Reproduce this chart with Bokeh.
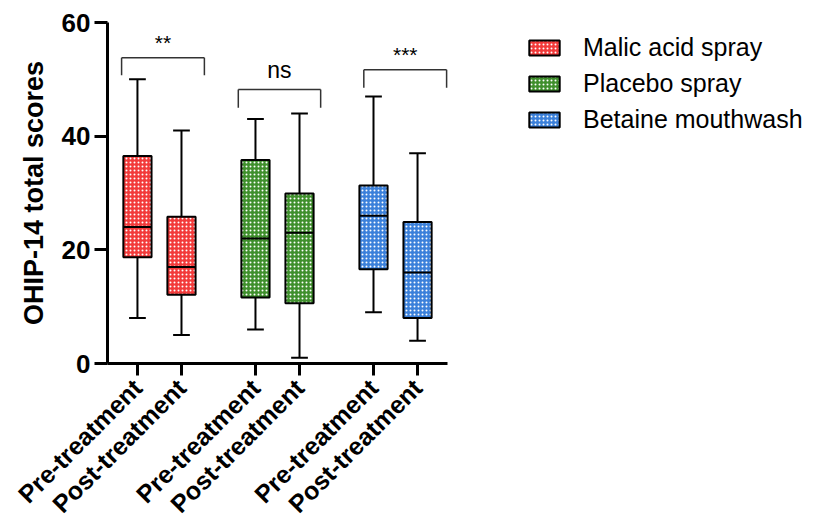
from bokeh.plotting import figure
from bokeh.models import Range1d, ColumnDataSource, Legend, LegendItem, FixedTicker
from bokeh.core.properties import value
from bokeh.embed import file_html
from bokeh.resources import INLINE

# ---- data ----
labels = ["Pre-treatment", "Post-treatment"] * 3
groups = ["Malic acid spray", "Malic acid spray", "Placebo spray", "Placebo spray",
          "Betaine mouthwash", "Betaine mouthwash"]
xpos = [0, 1, 2.68, 3.68, 5.36, 6.36]
wmin = [8, 5, 6, 1, 9, 4]
q1 = [18.7, 12.1, 11.6, 10.6, 16.6, 8.0]
med = [24, 17, 22, 23, 26, 16]
q3 = [36.5, 25.8, 35.8, 29.9, 31.3, 24.9]
wmax = [50, 41, 43, 44, 47, 37]
colors = ["#f23a3a", "#f23a3a", "#3f8f2c", "#3f8f2c", "#3b80da", "#3b80da"]
legend_names = ["Malic acid spray", "Placebo spray", "Betaine mouthwash"]

sig_text = ["**", "ns", "***"]
sig_left = [-0.36, 2.29, 5.14]
sig_right = [1.52, 4.16, 7.02]
sig_top = [53.8, 48.2, 51.7]
sig_leg = [50.7, 45.0, 48.5]
sig_text_y = [54.4, 49.4, 52.3]
sig_font = ["21px", "23px", "21px"]

BW = 0.64
CW = 0.38
AXIS_END = 7.04

p = figure(frame_width=702, frame_height=341, output_backend="svg", toolbar_location=None,
           x_range=Range1d(-0.68, 15.26), y_range=Range1d(0, 60),
           min_border_left=107, min_border_right=0, min_border_top=22, min_border_bottom=145)
p.outline_line_color = None
p.grid.visible = False
p.background_fill_color = "white"

src = ColumnDataSource(dict(x=xpos, wmin=wmin, q1=q1, med=med, q3=q3, wmax=wmax,
                            left=[x - BW / 2 for x in xpos], right=[x + BW / 2 for x in xpos],
                            cl=[x - CW / 2 for x in xpos], cr=[x + CW / 2 for x in xpos],
                            color=colors, group=groups))

# whiskers
p.segment(x0="x", y0="q3", x1="x", y1="wmax", source=src, line_color="black", line_width=2)
p.segment(x0="x", y0="wmin", x1="x", y1="q1", source=src, line_color="black", line_width=2)
p.segment(x0="cl", y0="wmax", x1="cr", y1="wmax", source=src, line_color="black", line_width=2)
p.segment(x0="cl", y0="wmin", x1="cr", y1="wmin", source=src, line_color="black", line_width=2)

boxes = []
for i in range(0, 6, 2):
    view_src = ColumnDataSource(dict(left=src.data["left"][i:i + 2], right=src.data["right"][i:i + 2],
                                     q1=q1[i:i + 2], q3=q3[i:i + 2]))
    r = p.quad(left="left", right="right", bottom="q1", top="q3", source=view_src,
               fill_color=colors[i], hatch_pattern="dot", hatch_color="white",
               hatch_scale=4, hatch_weight=2, line_color="black", line_width=2)
    boxes.append(r)

p.segment(x0="left", y0="med", x1="right", y1="med", source=src, line_color="black", line_width=2)

# significance brackets
bsrc = ColumnDataSource(dict(l=sig_left, r=sig_right, top=sig_top, leg=sig_leg,
                             mid=[(a + b) / 2 for a, b in zip(sig_left, sig_right)],
                             ty=sig_text_y, t=sig_text, fs=sig_font))
p.segment(x0="l", y0="top", x1="r", y1="top", source=bsrc, line_color="#333333", line_width=1.5)
p.segment(x0="l", y0="top", x1="l", y1="leg", source=bsrc, line_color="#333333", line_width=1.5)
p.segment(x0="r", y0="top", x1="r", y1="leg", source=bsrc, line_color="#333333", line_width=1.5)
p.text(x="mid", y="ty", text="t", source=bsrc, text_align="center", text_baseline="bottom",
       text_font=value("Liberation Sans"), text_font_size="fs", text_color="black")

# axes
p.xaxis.bounds = (-0.68, AXIS_END)
p.xaxis.ticker = FixedTicker(ticks=xpos)
p.xaxis.major_label_overrides = {x: l for x, l in zip(xpos, labels)}
p.xaxis.major_label_orientation = 0.785
p.xaxis.major_label_text_font = "Liberation Sans"
p.xaxis.major_label_text_font_style = "bold"
p.xaxis.major_label_text_font_size = "25px"
p.xaxis.major_label_text_color = "black"
p.xaxis.major_label_standoff = 8
p.xaxis.minor_tick_line_color = None
p.xaxis.axis_line_width = 3
p.xaxis.major_tick_line_width = 3
p.xaxis.major_tick_out = 12
p.xaxis.major_tick_in = 0

p.yaxis.ticker = FixedTicker(ticks=[0, 20, 40, 60])
p.yaxis.axis_label = "OHIP-14 total scores"
p.yaxis.axis_label_text_font = "Liberation Sans"
p.yaxis.axis_label_text_font_style = "bold"
p.yaxis.axis_label_text_font_size = "27px"
p.yaxis.axis_label_text_color = "black"
p.yaxis.axis_label_standoff = 10
p.yaxis.major_label_text_font = "Liberation Sans"
p.yaxis.major_label_text_font_style = "bold"
p.yaxis.major_label_text_font_size = "26px"
p.yaxis.major_label_text_color = "black"
p.yaxis.minor_tick_line_color = None
p.yaxis.axis_line_width = 3
p.yaxis.major_tick_line_width = 3
p.yaxis.major_tick_out = 13
p.yaxis.major_tick_in = 0
p.yaxis.major_label_standoff = 4

legend = Legend(items=[LegendItem(label=n, renderers=[r]) for n, r in zip(legend_names, boxes)],
                location=(418, 229))
legend.border_line_color = None
legend.background_fill_alpha = 0
legend.label_text_font = "Liberation Sans"
legend.label_text_font_size = "25px"
legend.label_text_color = "black"
legend.glyph_width = 38
legend.glyph_height = 19
legend.label_height = 30
legend.spacing = 6
legend.label_standoff = 20
legend.padding = 0
legend.margin = 0
p.add_layout(legend)

open("out.html", "w").write(file_html(p, INLINE))
